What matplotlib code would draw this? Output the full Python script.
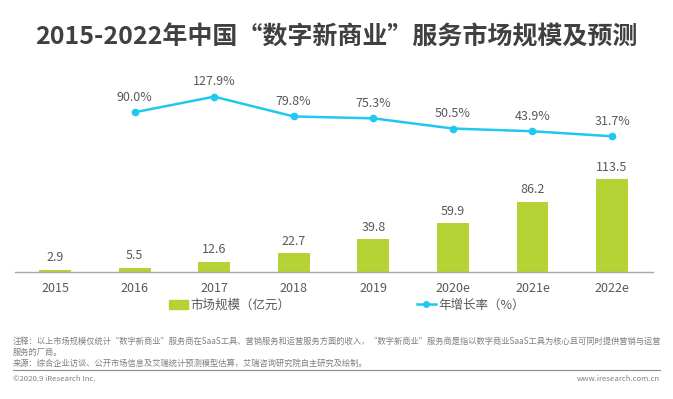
import numpy as np
import matplotlib
matplotlib.use('Agg')
import matplotlib.pyplot as plt
from matplotlib.lines import Line2D
from matplotlib.patches import Patch

plt.rcParams['font.family'] = ['Noto Sans CJK SC', 'DejaVu Sans']

# data
years = ['2015', '2016', '2017', '2018', '2019', '2020e', '2021e', '2022e']
market = [2.9, 5.5, 12.6, 22.7, 39.8, 59.9, 86.2, 113.5]
growth = [np.nan, 90.0, 127.9, 79.8, 75.3, 50.5, 43.9, 31.7]

title = '2015-2022年中国“数字新商业”服务市场规模及预测'
bar_label = '市场规模（亿元）'
line_label = '年增长率（%）'
note1 = '注释：以上市场规模仅统计“数字新商业”服务商在SaaS工具、营销服务和运营服务方面的收入，“数字新商业”服务商是指以数字商业SaaS工具为核心且可同时提供营销与运营'
note2 = '服务的厂商。'
source = '来源：综合企业访谈、公开市场信息及艾瑞统计预测模型估算，艾瑞咨询研究院自主研究及绘制。'
copyright_txt = '©2020.9 iResearch Inc.'
site = 'www.iresearch.com.cn'

bar_col = '#b5d334'
line_col = '#1fc8ef'
txt_col = '#595959'
W, H = 673, 399

fig = plt.figure(figsize=(W / 100, H / 100), dpi=100)
# axes in pixel terms: x 15..653, y 80..272 (from top)
ax = fig.add_axes([15 / W, 1 - 272 / H, 638 / W, 192 / H])
x = np.arange(len(years))
ax.bar(x, market, width=0.4, color=bar_col, zorder=2)
ax.set_xlim(-0.503, 7.515)
ax.set_ylim(0, 235)
for xi, v in zip(x, market):
    ax.annotate(f'{v:.1f}', (xi, v), xytext=(0, 4), textcoords='offset points',
                ha='center', va='bottom', fontsize=9, color=txt_col)

for s in ['top', 'right', 'left']:
    ax.spines[s].set_visible(False)
ax.spines['bottom'].set_color('#a6a6a6')
ax.spines['bottom'].set_linewidth(1.0)
ax.set_yticks([])
ax.set_xticks(x)
ax.set_xticklabels(years, fontsize=9, color=txt_col)
ax.tick_params(axis='x', length=0, pad=7)

ax2 = ax.twinx()
ax2.plot(x, growth, color=line_col, lw=1.8, marker='o', ms=4.5, zorder=3)
ax2.set_ylim(-298, 168.4)
ax2.axis('off')
for xi, v in zip(x, growth):
    if np.isnan(v):
        continue
    ax2.annotate(f'{v:.1f}%', (xi, v), xytext=(0, 6), textcoords='offset points',
                 ha='center', va='bottom', fontsize=9, color=txt_col)

handles = [Patch(color=bar_col, label=bar_label),
           Line2D([], [], color=line_col, lw=1.8, marker='o', ms=4, label=line_label)]
fig.legend(handles=handles, loc='center left', bbox_to_anchor=(158 / W, 1 - 305 / H),
           ncol=2, frameon=False, fontsize=9, handlelength=1.5, handletextpad=0.2,
           columnspacing=10.1, labelcolor=txt_col)

fig.text(0.5, 1 - 37 / H, title, ha='center', va='center', fontsize=18,
         fontweight='bold', color='#404040')

foot_col = '#7f7f7f'
fig.text(13 / W, 1 - 341 / H, note1, fontsize=5.95, color=foot_col, va='center')
fig.text(13 / W, 1 - 352 / H, note2, fontsize=5.95, color=foot_col, va='center')
fig.text(13 / W, 1 - 363 / H, source, fontsize=5.95, color=foot_col, va='center')
fig.add_artist(Line2D([13 / W, 660 / W], [1 - 370 / H, 1 - 370 / H],
                      color='#8c8c8c', lw=0.8))
fig.text(13 / W, 1 - 379 / H, copyright_txt, fontsize=5.6, color=foot_col, va='center')
fig.text(660 / W, 1 - 379 / H, site, fontsize=5.6, color=foot_col, va='center', ha='right')

fig.savefig('out.png', dpi=100)
